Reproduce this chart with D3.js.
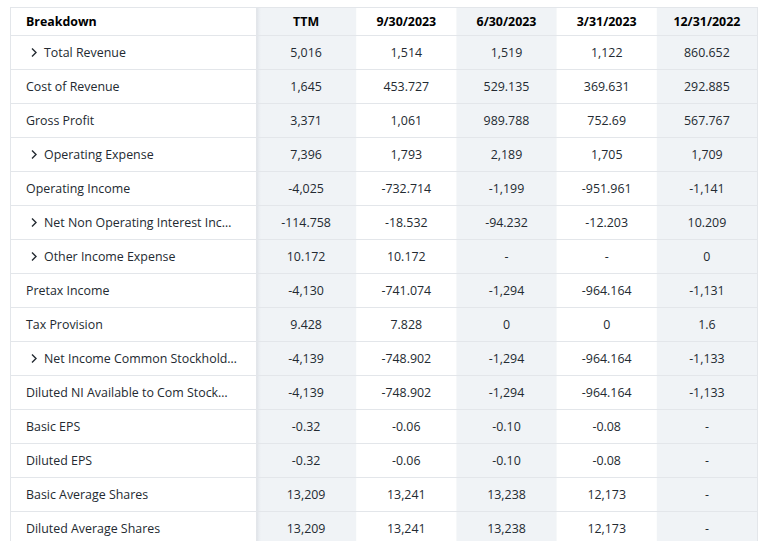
<!DOCTYPE html>
<html>
<head>
<meta charset="utf-8">
<script src="https://cdn.jsdelivr.net/npm/d3@7"></script>
<style>
  body { margin: 0; background: #fff; }
  svg { display: block; }
</style>
</head>
<body>
<div id="chart"></div>
<script>
"use strict"

// data
var columns = ["TTM", "9/30/2023", "6/30/2023", "3/31/2023", "12/31/2022"];
var breakdown = [
  "Total Revenue", "Cost of Revenue", "Gross Profit", "Operating Expense",
  "Operating Income", "Net Non Operating Interest Inc\u2026", "Other Income Expense",
  "Pretax Income", "Tax Provision", "Net Income Common Stockhold\u2026",
  "Diluted NI Available to Com Stock\u2026", "Basic EPS", "Diluted EPS",
  "Basic Average Shares", "Diluted Average Shares"
];
var expandable = [true, false, false, true, false, true, true, false, false, true,
  false, false, false, false, false];

var ttm = ["5,016", "1,645", "3,371", "7,396", "-4,025", "-114.758", "10.172",
  "-4,130", "9.428", "-4,139", "-4,139", "-0.32", "-0.32", "13,209", "13,209"];
var sep2023 = ["1,514", "453.727", "1,061", "1,793", "-732.714", "-18.532", "10.172",
  "-741.074", "7.828", "-748.902", "-748.902", "-0.06", "-0.06", "13,241", "13,241"];
var jun2023 = ["1,519", "529.135", "989.788", "2,189", "-1,199", "-94.232", "-",
  "-1,294", "0", "-1,294", "-1,294", "-0.10", "-0.10", "13,238", "13,238"];
var mar2023 = ["1,122", "369.631", "752.69", "1,705", "-951.961", "-12.203", "-",
  "-964.164", "0", "-964.164", "-964.164", "-0.08", "-0.08", "12,173", "12,173"];
var dec2022 = ["860.652", "292.885", "567.767", "1,709", "-1,141", "10.209", "0",
  "-1,131", "1.6", "-1,133", "-1,133", "-", "-", "-", "-"];

var seriesValues = [ttm, sep2023, jun2023, mar2023, dec2022];

// layout
var width = 763, height = 541,
    tableLeft = 10, tableRight = 757, tableTop = 7,
    headerH = 28, rowH = 34,
    labelColW = 246;

var font = "'Open Sans', 'Noto Sans', sans-serif",
    fontSize = "12.4px",
    textColor = "#232a31",
    lineColor = "#e3e6ea",
    shade = "#f0f3f6";

var svg = d3.select("#chart").append("svg")
  .attr("width", width)
  .attr("height", height);

var x = d3.scaleBand()
  .domain(columns)
  .range([tableLeft + labelColW, tableRight]);

var y = d3.scaleBand()
  .domain(d3.range(breakdown.length))
  .range([tableTop + headerH, tableTop + headerH + rowH * breakdown.length]);

var defs = svg.append("defs");
var grad = defs.append("linearGradient").attr("id", "shadow");
grad.append("stop").attr("offset", "0%").attr("stop-color", "#d9dde3");
grad.append("stop").attr("offset", "100%").attr("stop-color", shade).attr("stop-opacity", 0);

// shaded columns
svg.selectAll("rect.col")
  .data(columns.filter(function(d, i){ return i % 2 === 0; }))
  .enter().append("rect")
  .attr("class", "col")
  .attr("x", function(d){ return x(d); })
  .attr("y", tableTop)
  .attr("width", x.bandwidth())
  .attr("height", height - tableTop)
  .attr("fill", shade);

// sticky column shadow
svg.append("rect")
  .attr("x", x(columns[0]))
  .attr("y", tableTop)
  .attr("width", 6)
  .attr("height", height - tableTop)
  .attr("fill", "url(#shadow)");

// horizontal lines
var lineYs = [tableTop, tableTop + headerH].concat(d3.range(1, breakdown.length).map(function(i){ return y(i); }));
svg.selectAll("line.h")
  .data(lineYs)
  .enter().append("line")
  .attr("class", "h")
  .attr("x1", tableLeft).attr("x2", tableRight)
  .attr("y1", function(d){ return d + 0.5; })
  .attr("y2", function(d){ return d + 0.5; })
  .attr("stroke", lineColor)
  .attr("stroke-width", 1);

// outer vertical borders
svg.selectAll("line.v")
  .data([tableLeft, x(columns[0]), tableRight])
  .enter().append("line")
  .attr("class", "v")
  .attr("x1", function(d){ return d + 0.5; })
  .attr("x2", function(d){ return d + 0.5; })
  .attr("y1", tableTop).attr("y2", height)
  .attr("stroke", lineColor);

// header
svg.append("text")
  .attr("x", tableLeft + 16)
  .attr("y", tableTop + headerH / 2)
  .attr("dy", "0.38em")
  .style("font-family", font)
  .style("font-size", fontSize)
  .style("font-weight", "bold")
  .attr("fill", "#000")
  .text("Breakdown");

svg.selectAll("text.colhead")
  .data(columns)
  .enter().append("text")
  .attr("class", "colhead")
  .attr("x", function(d){ return x(d) + x.bandwidth() / 2; })
  .attr("y", tableTop + headerH / 2)
  .attr("dy", "0.38em")
  .attr("text-anchor", "middle")
  .style("font-family", font)
  .style("font-size", fontSize)
  .style("font-weight", "bold")
  .attr("fill", "#000")
  .text(function(d){ return d; });

// row labels
var rows = svg.selectAll("g.row")
  .data(breakdown)
  .enter().append("g")
  .attr("class", "row")
  .attr("transform", function(d, i){ return "translate(0," + (y(i) + y.bandwidth() / 2) + ")"; });

rows.append("text")
  .attr("x", function(d, i){ return expandable[i] ? tableLeft + 34 : tableLeft + 16; })
  .attr("dy", "0.4em")
  .style("font-family", font)
  .style("font-size", fontSize)
  .attr("fill", textColor)
  .text(function(d){ return d; });

rows.filter(function(d, i){ return expandable[i]; })
  .append("path")
  .attr("d", "M" + (tableLeft + 22) + ",-3.5 L" + (tableLeft + 26) + ",0.5 L" + (tableLeft + 22) + ",4.5")
  .attr("fill", "none")
  .attr("stroke", textColor)
  .attr("stroke-width", 1.4);

// values
columns.forEach(function(col, c){
  svg.selectAll("text.val" + c)
    .data(seriesValues[c])
    .enter().append("text")
    .attr("class", "val" + c)
    .attr("x", x(col) + x.bandwidth() / 2)
    .attr("y", function(d, i){ return y(i) + y.bandwidth() / 2; })
    .attr("dy", "0.4em")
    .attr("text-anchor", "middle")
    .style("font-family", font)
    .style("font-size", fontSize)
    .attr("fill", textColor)
    .text(function(d){ return d; });
});
</script>
</body>
</html>
